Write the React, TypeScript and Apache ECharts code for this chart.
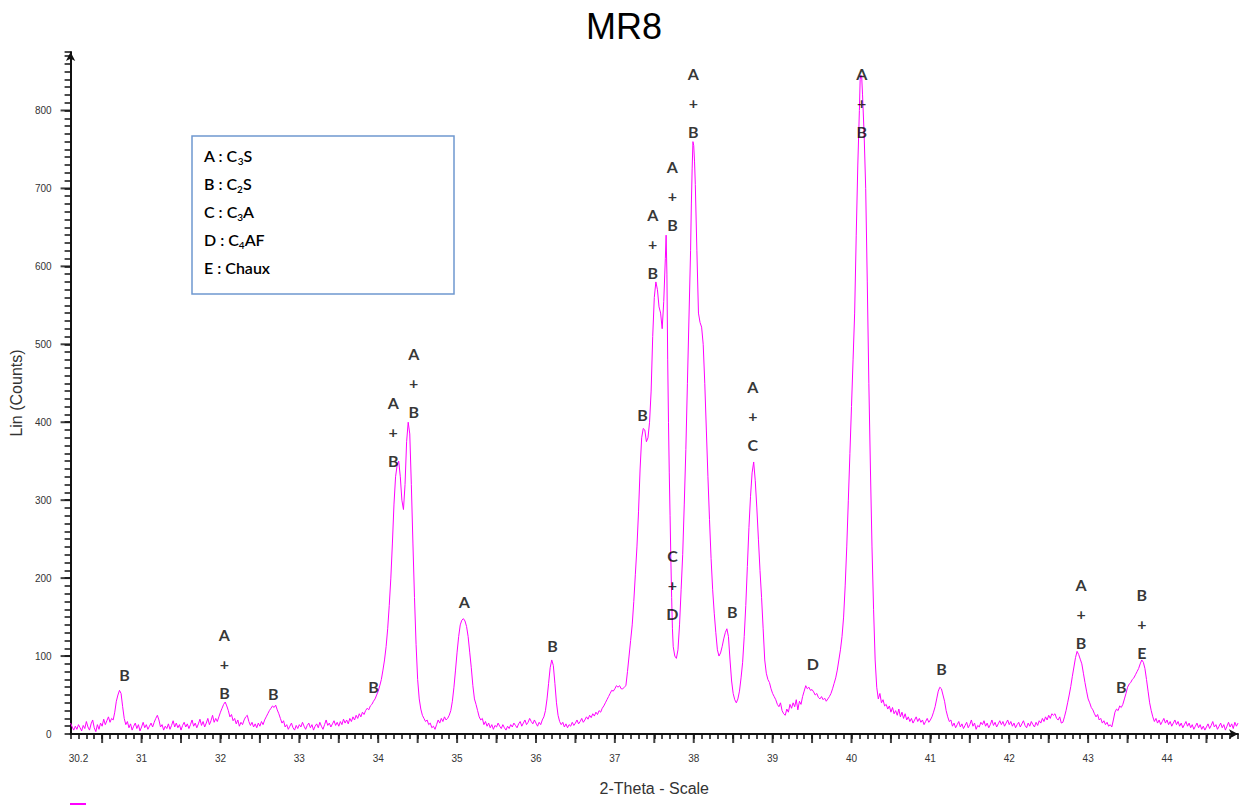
import React, { useEffect, useRef } from "react";
import * as echarts from "echarts";

const TITLE = "MR8";
const X_NAME = "2-Theta - Scale";
const Y_NAME = "Lin (Counts)";

const X_MIN = 30.1;
const X_MAX = 44.9;
const Y_MIN = 0;
const Y_MAX = 875;

const xLabelValues = [30.2, 31, 32, 33, 34, 35, 36, 37, 38, 39, 40, 41, 42, 43, 44];
const yLabelValues = [0, 100, 200, 300, 400, 500, 600, 700, 800];

// [2-theta, counts]
const scan: number[][] = [
  [30.10,14],[30.12,9],[30.14,5],[30.16,10],[30.18,6],[30.20,12],[30.22,8],[30.24,4],[30.26,11],[30.28,7],
  [30.30,16],[30.32,9],[30.34,5],[30.36,13],[30.38,18],[30.40,8],[30.42,3],[30.44,12],[30.46,6],[30.48,14],
  [30.50,10],[30.52,19],[30.54,12],[30.56,17],[30.58,22],[30.60,15],[30.62,20],[30.64,18],[30.66,28],[30.68,42],
  [30.70,50],[30.72,56],[30.74,52],[30.76,35],[30.78,20],[30.80,12],[30.82,16],[30.84,8],[30.86,13],[30.88,5],
  [30.90,10],[30.92,14],[30.94,7],[30.96,12],[30.98,4],[31.00,9],[31.02,15],[31.04,8],[31.06,12],[31.08,6],
  [31.10,10],[31.12,14],[31.14,9],[31.16,15],[31.18,20],[31.20,24],[31.22,18],[31.24,9],[31.26,12],[31.28,5],
  [31.30,10],[31.32,7],[31.34,13],[31.36,6],[31.38,11],[31.40,17],[31.42,9],[31.44,14],[31.46,8],[31.48,12],
  [31.50,5],[31.52,11],[31.54,15],[31.56,9],[31.58,13],[31.60,7],[31.62,12],[31.64,18],[31.66,10],[31.68,14],
  [31.70,8],[31.72,13],[31.74,19],[31.76,11],[31.78,16],[31.80,9],[31.82,14],[31.84,20],[31.86,12],[31.88,17],
  [31.90,24],[31.92,15],[31.94,20],[31.96,16],[31.98,22],[32.00,28],[32.02,33],[32.04,38],[32.06,41],[32.08,36],
  [32.10,30],[32.12,22],[32.14,25],[32.16,17],[32.18,20],[32.20,13],[32.22,18],[32.24,10],[32.26,15],[32.28,12],
  [32.30,18],[32.32,22],[32.34,24],[32.36,16],[32.38,11],[32.40,15],[32.42,9],[32.44,13],[32.46,8],[32.48,14],
  [32.50,10],[32.52,16],[32.54,12],[32.56,18],[32.58,22],[32.60,26],[32.62,30],[32.64,33],[32.66,36],[32.68,34],
  [32.70,37],[32.72,31],[32.74,26],[32.76,20],[32.78,14],[32.80,17],[32.82,9],[32.84,12],[32.86,6],[32.88,10],
  [32.90,14],[32.92,8],[32.94,5],[32.96,11],[32.98,7],[33.00,12],[33.02,9],[33.04,15],[33.06,10],[33.08,6],
  [33.10,11],[33.12,14],[33.14,8],[33.16,12],[33.18,5],[33.20,10],[33.22,13],[33.24,8],[33.26,15],[33.28,10],
  [33.30,6],[33.32,12],[33.34,18],[33.36,11],[33.38,14],[33.40,9],[33.42,13],[33.44,17],[33.46,11],[33.48,15],
  [33.50,10],[33.52,16],[33.54,12],[33.56,19],[33.58,14],[33.60,18],[33.62,13],[33.64,20],[33.66,16],[33.68,22],
  [33.70,18],[33.72,24],[33.74,20],[33.76,26],[33.78,22],[33.80,28],[33.82,25],[33.84,30],[33.86,33],[33.88,31],
  [33.90,36],[33.92,38],[33.94,42],[33.96,45],[33.98,50],[34.00,55],[34.02,62],[34.04,70],[34.06,82],[34.08,95],
  [34.10,112],[34.12,135],[34.14,165],[34.16,200],[34.18,245],[34.20,295],[34.22,330],[34.24,345],[34.26,350],[34.28,330],
  [34.30,300],[34.32,288],[34.34,320],[34.36,375],[34.38,400],[34.40,385],[34.42,320],[34.44,245],[34.46,175],[34.48,115],
  [34.50,70],[34.52,45],[34.54,32],[34.56,24],[34.58,20],[34.60,16],[34.62,18],[34.64,12],[34.66,14],[34.68,8],
  [34.70,10],[34.72,6],[34.74,12],[34.76,18],[34.78,14],[34.80,20],[34.82,16],[34.84,22],[34.86,18],[34.88,20],
  [34.90,24],[34.92,30],[34.94,42],[34.96,60],[34.98,82],[35.00,105],[35.02,125],[35.04,140],[35.06,146],[35.08,148],
  [35.10,145],[35.12,138],[35.14,125],[35.16,105],[35.18,85],[35.20,62],[35.22,45],[35.24,38],[35.26,30],[35.28,22],
  [35.30,18],[35.32,20],[35.34,12],[35.36,16],[35.38,10],[35.40,14],[35.42,8],[35.44,12],[35.46,6],[35.48,11],
  [35.50,9],[35.52,14],[35.54,10],[35.56,7],[35.58,12],[35.60,8],[35.62,5],[35.64,10],[35.66,7],[35.68,12],
  [35.70,9],[35.72,14],[35.74,11],[35.76,8],[35.78,13],[35.80,16],[35.82,10],[35.84,14],[35.86,18],[35.88,12],
  [35.90,15],[35.92,20],[35.94,16],[35.96,13],[35.98,18],[36.00,14],[36.02,10],[36.04,15],[36.06,12],[36.08,18],
  [36.10,22],[36.12,30],[36.14,45],[36.16,65],[36.18,85],[36.20,95],[36.22,88],[36.24,65],[36.26,40],[36.28,24],
  [36.30,16],[36.32,12],[36.34,15],[36.36,9],[36.38,13],[36.40,8],[36.42,12],[36.44,10],[36.46,15],[36.48,11],
  [36.50,14],[36.52,18],[36.54,13],[36.56,16],[36.58,20],[36.60,15],[36.62,18],[36.64,22],[36.66,19],[36.68,24],
  [36.70,21],[36.72,26],[36.74,23],[36.76,28],[36.78,25],[36.80,30],[36.82,28],[36.84,33],[36.86,36],[36.88,40],
  [36.90,44],[36.92,48],[36.94,52],[36.96,56],[36.98,55],[37.00,58],[37.02,62],[37.04,60],[37.06,62],[37.08,58],
  [37.10,58],[37.12,60],[37.14,62],[37.16,80],[37.18,100],[37.20,120],[37.22,140],[37.24,170],[37.26,205],[37.28,240],
  [37.30,285],[37.32,340],[37.34,380],[37.36,392],[37.38,390],[37.40,375],[37.42,380],[37.44,400],[37.46,440],[37.48,510],
  [37.50,560],[37.52,580],[37.54,570],[37.56,548],[37.58,540],[37.60,520],[37.62,555],[37.64,610],[37.65,640],[37.66,590],
  [37.67,480],[37.68,400],[37.69,335],[37.70,280],[37.71,225],[37.72,175],[37.73,135],[37.74,112],[37.76,100],[37.78,97],
  [37.80,108],[37.82,140],[37.84,185],[37.86,230],[37.88,295],[37.90,365],[37.92,450],[37.94,535],[37.96,620],[37.97,680],
  [37.98,725],[37.99,760],[38.00,755],[38.01,735],[38.02,705],[38.04,620],[38.06,540],[38.08,528],[38.10,522],[38.12,500],
  [38.14,450],[38.16,390],[38.18,330],[38.20,275],[38.22,225],[38.24,185],[38.26,155],[38.28,130],[38.30,108],[38.32,100],
  [38.34,104],[38.36,112],[38.38,122],[38.40,130],[38.42,135],[38.44,125],[38.46,95],[38.48,68],[38.50,52],[38.52,44],
  [38.54,40],[38.56,45],[38.58,55],[38.60,72],[38.62,92],[38.64,125],[38.66,165],[38.68,215],[38.70,265],[38.72,305],
  [38.74,335],[38.76,349],[38.78,325],[38.80,290],[38.82,250],[38.84,210],[38.86,175],[38.88,135],[38.90,95],[38.92,78],
  [38.94,70],[38.96,66],[38.98,58],[39.00,52],[39.02,48],[39.04,44],[39.06,38],[39.08,35],[39.10,40],[39.12,30],
  [39.14,26],[39.16,24],[39.18,32],[39.20,28],[39.22,38],[39.24,33],[39.26,40],[39.28,35],[39.30,44],[39.32,31],
  [39.34,42],[39.36,38],[39.38,48],[39.40,55],[39.42,62],[39.44,58],[39.46,60],[39.48,56],[39.50,57],[39.52,54],
  [39.54,50],[39.56,52],[39.58,47],[39.60,45],[39.62,48],[39.64,44],[39.66,46],[39.68,42],[39.70,45],[39.72,48],
  [39.74,52],[39.76,58],[39.78,65],[39.80,72],[39.82,82],[39.84,95],[39.86,108],[39.88,125],[39.90,150],[39.92,190],
  [39.94,240],[39.96,300],[39.98,360],[40.00,420],[40.02,480],[40.04,540],[40.06,640],[40.08,730],[40.10,800],[40.11,840],
  [40.12,845],[40.13,842],[40.14,820],[40.16,770],[40.18,700],[40.20,580],[40.22,450],[40.24,340],[40.26,240],[40.28,160],
  [40.30,95],[40.32,60],[40.34,45],[40.36,52],[40.38,40],[40.40,44],[40.42,36],[40.44,38],[40.46,32],[40.48,36],
  [40.50,28],[40.52,34],[40.54,26],[40.56,30],[40.58,24],[40.60,32],[40.62,22],[40.64,28],[40.66,20],[40.68,26],
  [40.70,18],[40.72,22],[40.74,16],[40.76,20],[40.78,14],[40.80,18],[40.82,22],[40.84,16],[40.86,20],[40.88,15],
  [40.90,18],[40.92,12],[40.94,16],[40.96,20],[40.98,15],[41.00,18],[41.02,22],[41.04,28],[41.06,35],[41.08,45],
  [41.10,55],[41.12,60],[41.14,58],[41.16,50],[41.18,42],[41.20,30],[41.22,22],[41.24,16],[41.26,18],[41.28,10],
  [41.30,14],[41.32,8],[41.34,12],[41.36,16],[41.38,9],[41.40,13],[41.42,7],[41.44,11],[41.46,15],[41.48,8],
  [41.50,12],[41.52,18],[41.54,10],[41.56,14],[41.58,6],[41.60,11],[41.62,9],[41.64,15],[41.66,12],[41.68,17],
  [41.70,10],[41.72,14],[41.74,8],[41.76,12],[41.78,18],[41.80,11],[41.82,15],[41.84,9],[41.86,13],[41.88,17],
  [41.90,12],[41.92,16],[41.94,10],[41.96,14],[41.98,18],[42.00,12],[42.02,16],[42.04,10],[42.06,14],[42.08,8],
  [42.10,12],[42.12,15],[42.14,9],[42.16,13],[42.18,17],[42.20,11],[42.22,8],[42.24,14],[42.26,10],[42.28,16],
  [42.30,12],[42.32,9],[42.34,15],[42.36,11],[42.38,17],[42.40,14],[42.42,20],[42.44,16],[42.46,22],[42.48,18],
  [42.50,24],[42.52,20],[42.54,26],[42.56,24],[42.58,26],[42.60,20],[42.62,18],[42.64,22],[42.66,14],[42.68,15],
  [42.70,22],[42.72,30],[42.74,40],[42.76,50],[42.78,61],[42.80,74],[42.82,86],[42.84,98],[42.86,106],[42.88,102],
  [42.90,96],[42.92,90],[42.94,78],[42.96,66],[42.98,55],[43.00,45],[43.02,40],[43.04,34],[43.06,31],[43.08,26],
  [43.10,22],[43.12,25],[43.14,18],[43.16,20],[43.18,14],[43.20,17],[43.22,12],[43.24,15],[43.26,10],[43.28,12],
  [43.30,9],[43.32,18],[43.34,28],[43.36,32],[43.38,30],[43.40,36],[43.42,34],[43.44,38],[43.46,45],[43.48,52],
  [43.50,60],[43.52,64],[43.54,66],[43.56,70],[43.58,72],[43.60,76],[43.62,80],[43.64,84],[43.66,90],[43.68,95],
  [43.70,92],[43.72,84],[43.74,70],[43.76,55],[43.78,40],[43.80,30],[43.82,22],[43.84,16],[43.86,20],[43.88,14],
  [43.90,18],[43.92,12],[43.94,16],[43.96,20],[43.98,14],[44.00,18],[44.02,12],[44.04,16],[44.06,10],[44.08,14],
  [44.10,18],[44.12,12],[44.14,16],[44.16,10],[44.18,14],[44.20,8],[44.22,12],[44.24,16],[44.26,10],[44.28,14],
  [44.30,8],[44.32,12],[44.34,6],[44.36,10],[44.38,14],[44.40,8],[44.42,12],[44.44,6],[44.46,10],[44.48,5],
  [44.50,9],[44.52,13],[44.54,7],[44.56,11],[44.58,16],[44.60,9],[44.62,12],[44.64,6],[44.66,10],[44.68,14],
  [44.70,8],[44.72,12],[44.74,5],[44.76,10],[44.78,15],[44.80,9],[44.82,13],[44.84,7],[44.86,15],[44.88,10],
  [44.90,14],
];

// Peak phase annotations: text, 2-theta, count at the bottom of the label
const peakText = ["B", "A\n+\nB", "B", "B", "A\n+\nB", "A\n+\nB", "A", "B", "B", "A\n+\nB", "A\n+\nB", "C\n+\nD", "A\n+\nB", "B", "A\n+\nC", "D", "A\n+\nB", "B", "A\n+\nB", "B", "B\n+\nE"];
const peakX = [30.785, 32.05, 32.67, 33.94, 34.19, 34.45, 35.09, 36.21, 37.35, 37.48, 37.73, 37.73, 37.995, 38.49, 38.75, 39.51, 40.13, 41.14, 42.91, 43.42, 43.68];
const peakY = [58, 35, 33, 42, 332, 395, 152, 95, 391, 573, 635, 136, 754, 138, 353, 72, 754, 65, 99, 42, 86];

// Phase key
const keyLetters = ["A", "B", "C", "D", "E"];
const keyBase = ["C", "C", "C", "C", "Chaux"];
const keySub = ["3", "2", "3", "4", ""];
const keyTail = ["S", "S", "A", "AF", ""];

const LINE_COLOR = "#ff00ff";
const AXIS_COLOR = "#111111";
const ANNOT_FONT = "Lato, 'Open Sans', sans-serif";
const AXIS_FONT = "'Liberation Sans', Arial, sans-serif";

function range(a: number, b: number, step: number): number[] {
  const out: number[] = [];
  for (let i = 0; a + i * step <= b + 1e-9; i++) out.push(Math.round((a + i * step) * 1000) / 1000);
  return out;
}

export default function App() {
  const ref = useRef<HTMLDivElement>(null);

  useEffect(() => {
    if (!ref.current) return;
    const chart = echarts.init(ref.current, null, { renderer: "svg" });

    // longer tick marks at whole and half degrees, and at every 100 counts
    const xLongTicks = range(30.5, 44.5, 0.5).map((v) => [v, Y_MIN]);
    const yLongTicks = range(100, 800, 100).map((v) => [X_MIN, v]);

    const keyTexts = keyLetters.map((L, i) => {
      const t = keySub[i]
        ? `{m|${L} : ${keyBase[i]}}{s|${keySub[i]}}{m|${keyTail[i]}}`
        : `{m|${L} : ${keyBase[i]}}`;
      return {
        type: "text",
        left: 204,
        top: 147 + i * 28,
        z: 11,
        style: {
          text: t,
          rich: {
            m: { fontSize: 16, fontFamily: ANNOT_FONT, fontWeight: 600, fill: "#000", lineHeight: 22, verticalAlign: "middle" },
            s: { fontSize: 10, fontFamily: ANNOT_FONT, fontWeight: 600, fill: "#000", lineHeight: 10, verticalAlign: "bottom" },
          },
        },
      };
    });

    const option: any = {
      animation: false,
      backgroundColor: "#ffffff",
      title: {
        text: TITLE,
        left: "center",
        top: 3,
        textStyle: { fontSize: 36, fontWeight: "normal", fontFamily: AXIS_FONT, color: "#000" },
      },
      grid: { left: 66, right: 10, top: 52, bottom: 71, containLabel: false },
      xAxis: {
        type: "value",
        min: X_MIN,
        max: X_MAX,
        interval: 0.1,
        splitLine: { show: false },
        name: X_NAME,
        nameLocation: "middle",
        nameGap: 46,
        nameTextStyle: { fontSize: 16, color: "#333", fontFamily: AXIS_FONT },
        axisLine: {
          show: true,
          onZero: false,
          symbol: ["none", "arrow"],
          symbolSize: [7, 9],
          lineStyle: { color: AXIS_COLOR, width: 2 },
        },
        axisTick: { show: true, inside: false, length: 5, interval: 0, lineStyle: { color: AXIS_COLOR, width: 1.5 } },
        axisLabel: {
          show: true,
          customValues: xLabelValues,
          margin: 19,
          fontSize: 10,
          color: "#333",
          fontFamily: AXIS_FONT,
          formatter: (v: number) => (Math.abs(v - 30.2) < 1e-6 ? "30.2" : String(Math.round(v))),
        },
      },
      yAxis: {
        type: "value",
        min: Y_MIN,
        max: Y_MAX,
        interval: 100,
        splitLine: { show: false },
        name: Y_NAME,
        nameLocation: "middle",
        nameGap: 40,
        nameTextStyle: { fontSize: 16, color: "#333", fontFamily: AXIS_FONT },
        axisLine: {
          show: true,
          onZero: false,
          symbol: ["none", "arrow"],
          symbolSize: [7, 9],
          lineStyle: { color: AXIS_COLOR, width: 2 },
        },
        axisTick: { show: true, inside: false, length: 6, lineStyle: { color: AXIS_COLOR, width: 1.5 } },
        minorTick: { show: true, splitNumber: 10, length: 6, lineStyle: { color: AXIS_COLOR, width: 1.5 } },
        axisLabel: {
          show: true,
          customValues: yLabelValues,
          margin: 19,
          fontSize: 10,
          color: "#333",
          fontFamily: AXIS_FONT,
        },
      },
      series: [
        {
          type: "scatter",
          name: "xMajorTicks",
          data: xLongTicks,
          symbol: "rect",
          symbolSize: [2, 9],
          symbolOffset: [0, 4.5],
          itemStyle: { color: AXIS_COLOR },
          clip: false,
          silent: true,
          z: 1,
        },
        {
          type: "scatter",
          name: "yMajorTicks",
          data: yLongTicks,
          symbol: "rect",
          symbolSize: [10, 2],
          symbolOffset: [-5, 0],
          itemStyle: { color: AXIS_COLOR },
          clip: false,
          silent: true,
          z: 1,
        },
        {
          type: "line",
          name: TITLE,
          data: scan,
          showSymbol: false,
          symbol: "none",
          lineStyle: { color: LINE_COLOR, width: 1 },
          silent: true,
          z: 3,
        },
        {
          type: "scatter",
          symbolSize: 0,
          silent: true,
          z: 5,
          data: peakText.map((t, i) => ({ name: t, value: [peakX[i], peakY[i]] })),
          label: {
            show: true,
            position: "top",
            distance: 0,
            formatter: (p: any) => p.name,
            fontSize: 16,
            fontWeight: "bold",
            lineHeight: 29,
            align: "center",
            color: "#000",
            fontFamily: ANNOT_FONT,
          },
        },
      ],
      graphic: [
        {
          type: "rect",
          shape: { x: 192, y: 136, width: 262, height: 158 },
          style: { fill: "#ffffff", stroke: "#6f98cf", lineWidth: 1.5 },
          z: 10,
        },
        ...keyTexts,
        {
          type: "line",
          shape: { x1: 70, y1: 804, x2: 86, y2: 804 },
          style: { stroke: LINE_COLOR, lineWidth: 2 },
        },
      ],
    };

    chart.setOption(option);
    return () => chart.dispose();
  }, []);

  return (
    <div
      ref={ref}
      style={{ position: "fixed", left: 0, top: 0, width: 1248, height: 805, background: "#fff" }}
    />
  );
}
